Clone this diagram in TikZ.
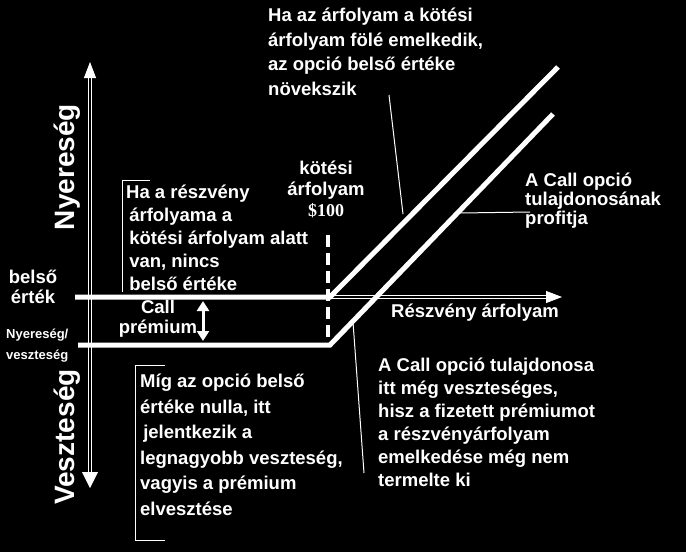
\documentclass[tikz,border=0pt]{standalone}
\usepackage{fontspec}
\setmainfont{Liberation Sans}
\newfontfamily\tms{Liberation Serif}
\usetikzlibrary{arrows.meta}
\begin{document}
\begin{tikzpicture}[x=1pt,y=-1pt,
  lbl/.style={text=white,font=\bfseries\fontsize{18.5}{23}\selectfont,align=left,inner sep=0pt},
  thick line/.style={white,line width=5pt},
  thin/.style={white,line width=1pt},
  axis/.style={white,double=black,double distance=1.5pt,line width=0.8pt}]
\fill[black] (0,0) rectangle (686,552);
\useasboundingbox (0,0) rectangle (686,552);
% axes
\draw[axis,-{Triangle[width=12pt,length=16pt,fill=white]}] (90,470) coordinate (yb) -- (90,62) coordinate (yt);
\draw[axis] (90,300) -- (90,472);
\draw[axis,-{Triangle[width=12pt,length=16pt,fill=white]}] (90,297) coordinate (xl) -- (562,297) coordinate (xr);
\fill[white] (82,472) -- (98,472) -- (90,488) -- cycle;
% payoff lines
\coordinate (k1) at (330,297); \coordinate (k2) at (330,345);
\draw[thick line] (75,297) -- (k1) -- (558,67) coordinate (t1);
\draw[thick line] (78,345) -- (k2) -- (553,114) coordinate (t2);
\draw[white,line width=4pt,dash pattern=on 12pt off 6pt] (328,235) coordinate (d1) -- (328,345);
\draw[white,line width=3pt,{Triangle[width=12pt,length=10pt]}-{Triangle[width=12pt,length=10pt]}] (203,301) coordinate (a1) -- (203,341) coordinate (a2);
% brackets
\draw[thin] (150,180) -- (122,180) -- (122,292);
\draw[thin] (165,365) -- (135,365) -- (135,540) -- (165,540);
% leader lines
\draw[thin] (389,95) -- (403,214);
\draw[thin] (460,213) -- (530,212);
\draw[thin] (353,322) -- (364,473);
% texts
\node[lbl,anchor=north west,font=\bfseries\fontsize{18.5}{24.5}\selectfont] (top) at (268,8) {Ha az árfolyam a kötési\\árfolyam fölé emelkedik,\\az opció belső értéke\\növekszik};
\node[lbl,anchor=north west] (ha) at (126,185) {Ha a részvény\\\,árfolyama a\\\,kötési árfolyam alatt\\\,van, nincs\\\,belső értéke};
\node[lbl,align=center,font=\bfseries\fontsize{18.5}{21}\selectfont] (kt) at (326,189) {kötési\\árfolyam\\{\tms\fontsize{18}{20}\selectfont \$100}};
\node[lbl,anchor=north west,font=\bfseries\fontsize{18.5}{19}\selectfont] (cp) at (525,173) {A Call opció\\tulajdonosának\\profitja};
\node[lbl] (re) at (475,313) {Részvény árfolyam};
\node[lbl,align=center,font=\bfseries\fontsize{18.5}{20}\selectfont] (be) at (33,287) {belső\\érték};
\node[lbl,align=center,font=\bfseries\fontsize{18.5}{20}\selectfont] (cl) at (158,319) {Call\\prémium};
\node[lbl,anchor=west,font=\bfseries\fontsize{13}{21}\selectfont,align=center] (nv) at (6,346) {Nyereség/\\veszteség};
\node[lbl,anchor=north west] (ac) at (378,358) {A Call opció tulajdonosa\\itt még veszteséges,\\hisz a fizetett prémiumot\\a részvényárfolyam\\emelkedése még nem\\termelte ki};
\node[lbl,anchor=north west,font=\bfseries\fontsize{18.5}{25.5}\selectfont] (mg) at (140,374) {Míg az opció belső\\értéke nulla, itt\\\,jelentkezik a\\legnagyobb veszteség,\\vagyis a prémium\\elvesztése};
\node[lbl,rotate=90,font=\bfseries\fontsize{28}{30}\selectfont] (ny) at (67,167) {Nyereség};
\node[lbl,rotate=90,font=\bfseries\fontsize{28}{30}\selectfont] (vs) at (67,437) {Veszteség};
\end{tikzpicture}
\end{document}
